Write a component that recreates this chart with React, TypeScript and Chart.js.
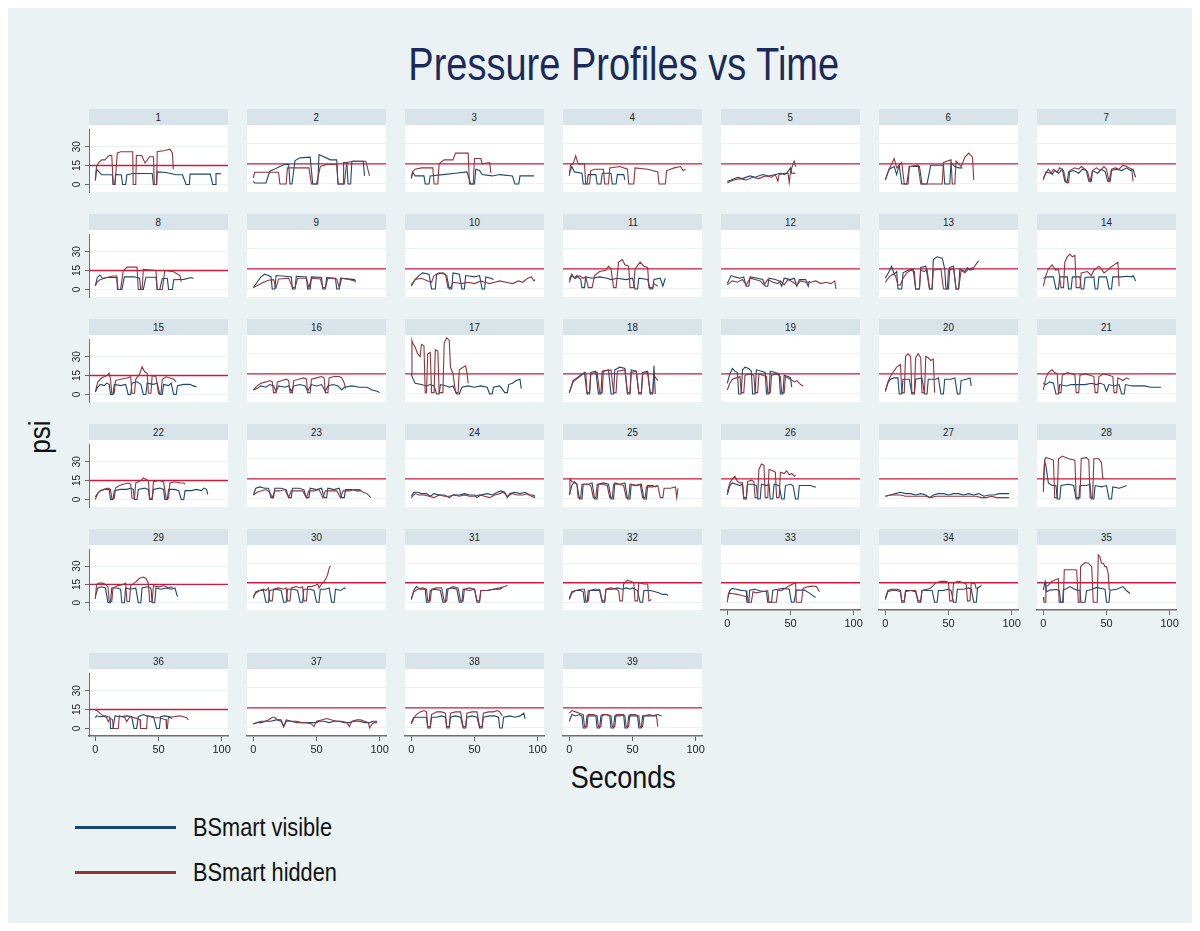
import React, { useEffect, useRef } from "react";
import { Chart, registerables } from "chart.js";
Chart.register(...registerables);

// ---------------- data ----------------
const panelIds = [1,2,3,4,5,6,7,8,9,10,11,12,13,14,15,16,17,18,19,20,21,22,23,24,25,26,27,28,29,30,31,32,33,34,35,36,37,38,39];
const yTicks = [0, 15, 30];
const xTicks = [0, 50, 100];
const refLevel = 15;
const seriesNames = ["BSmart visible", "BSmart hidden"];

// each series: flat [seconds, psi, seconds, psi, ...]
const vis01 = [0,3, 1,12, 3,10, 5,7.7, 12,7.7, 13.5,7.5, 14,0, 15.5,0, 16,8, 20.6,7.5, 21.6,0, 24,0, 25,7.7, 30,8.7, 45,8.7, 46,0, 48.5,0, 49,10, 56,9.5, 64,7.7, 69,7.7, 71.8,0, 74.4,0, 75,8.2, 91,8.2, 92.9,0, 95,0, 95.5,8.7, 99.5,8.5];
const hid01 = [0,4, 1,14.5, 3.2,18, 5,19.5, 7.7,19.5, 9,21, 11,23, 13,23, 14.2,0, 15.6,0, 17.4,25, 20,26, 29.6,26, 30,0, 32,0, 32.5,23, 36.7,23, 39.3,17, 43,22, 46,22, 46.7,0, 48.5,0, 49,26, 55,27, 59,28, 61,25, 61.7,12];
const vis02 = [0,2, 1,0.7, 10,0.7, 13,9.5, 16,10.7, 21,13, 25,14.5, 28,14.5, 29,0, 30.6,0, 33,17.5, 37,19.5, 45,20, 47,0, 51,0, 52,22, 61,18, 66,18, 67,0, 71,0, 71.5,16, 74,16, 75,0, 77,0, 78,17, 87,17, 88,6];
const hid02 = [0,4.5, 1,8.7, 20,8.7, 21,0, 26,0, 27,12, 44,12, 46,0, 50,0, 53,13, 58,14.5, 66,14.5, 67,0, 72,0, 74,16, 79,17, 89,17, 92,6];
const vis03 = [0,4, 1,9, 3,6, 10,6, 11,0, 14,0, 15,6, 25,7, 35,8, 44,9, 47,0, 50,0, 51,11, 54,10, 56,7, 64,6, 70,7, 80,6, 82,0, 85,0, 86,6, 97,6];
const hid03 = [0,5, 1,9, 3,11, 8,12, 17,12, 18,0, 21,0, 22,15, 26,18, 33,18, 35,23, 45,23, 46,0, 49,0, 50,19, 55,19, 56,15, 62,16, 63,8];
const vis04 = [0,8, 2,13, 4,9, 10,8, 11,0, 14,0, 15,7, 21,7, 22,0, 25,0, 26,8, 33,8, 34,0, 37,0, 38,7, 43,7, 44,3];
const hid04 = [0,6, 1,14, 3,15, 5,21, 7,15, 12,15, 13,0, 16,0, 17,10, 20,11, 27,11, 28,0, 31,0, 32,12, 40,13, 46,11, 47,0, 51,0, 52,12, 62,11, 70,9, 71,0, 76,0, 77,10, 83,12, 88,13, 90,10, 92,11];
const vis05 = [0,2, 3,3, 8,5, 12,4, 18,6, 22,5, 28,7, 33,6, 38,7, 42,8, 45,7, 47,8, 50,12, 51,8, 54,8];
const hid05 = [0,1, 5,3, 10,4, 15,3, 20,5, 25,4, 30,6, 35,5, 38,7, 40,2, 41,7, 45,8, 48,8, 49,1, 50,9, 52,15, 53,17, 54,13];
const vis06 = [0,3, 3,11, 7,13, 9,7, 11,14, 13,0, 17,0, 19,13, 27,13, 29,0, 33,0, 36,14, 46,14, 47,0, 51,0, 52,16, 55,13, 58,12, 61,12];
const hid06 = [0,3, 3,11, 7,19, 9,12, 13,16, 15,0, 18,0, 19,13, 26,14, 28,0, 45,0, 46,16, 52,18, 53,0, 55,0, 56,17, 60,13, 63,20, 66,23, 69,20, 70,3];
const vis07 = [0,4, 2,8, 4,11, 7,7, 9,10, 12,8, 15,11, 17,2, 19,2, 20,9, 24,10, 28,8, 31,11, 34,10, 36,2, 38,2, 39,10, 43,8, 46,11, 49,9, 51,2, 53,2, 54,10, 58,11, 62,10, 66,12, 69,10, 71,11, 73,5];
const hid07 = [0,3, 2,9, 6,8, 8,11, 11,9, 13,12, 16,10, 18,1, 20,1, 21,10, 25,12, 28,11, 30,13, 33,11, 35,9, 37,2, 39,10, 42,12, 45,10, 48,13, 50,11, 52,2, 54,11, 57,12, 60,11, 63,14, 66,13, 68,12, 70,11, 71,2];
const vis08 = [0,3, 1.6,9.5, 3.7,11.5, 5.8,8.7, 9,9.5, 17,9.5, 18,0, 21,0, 23,10, 31,10, 35,9, 36,0, 38,0, 40,9.7, 48,9.7, 49,0, 51,0, 53,8.7, 57,8.7, 58,0, 61,0, 62,7.7, 70,8, 76,9.5, 77.6,8.7];
const hid08 = [0,3, 1.6,6, 3.7,7.7, 9,9.5, 14,10.7, 17,10.7, 17.5,0, 20,0, 22,14.5, 25,17.7, 33,17.7, 34,0, 37,0, 38,16, 48,15, 49,0, 53,0, 55,15, 62,14, 67,11, 68,6];
const vis09 = [0,1, 3,5, 6,9, 9,11, 12,10, 14,9, 15,0, 17,0, 18,10, 25,9.5, 30,9, 31,0, 33,0, 34,9.5, 42,9, 43,0, 45,0, 46,9, 54,8.5, 55,0, 57,0, 58,8.5, 65,8, 66,0, 68,0, 69,8, 75,7.5, 80,7, 81,6];
const hid09 = [0,1, 4,3, 8,5, 12,6.5, 16,7, 18,1, 20,7.5, 28,8, 31,1, 33,1, 35,8, 42,8, 44,1, 46,8, 53,7.5, 55,1, 57,1, 59,8, 66,7.5, 68,1, 70,8, 76,7, 80,6, 81,5];
const vis10 = [0,2, 3,7, 6,10, 9,12, 14,11, 16,0, 19,0, 20,11, 25,12, 28,10, 30,0, 32,0, 33,12, 38,11, 40,0, 42,0, 43,10, 50,9, 54,10, 56,0, 58,0, 59,9, 63,8, 65,7];
const hid10 = [0,3, 3,7, 8,8, 13,6, 16,5, 18,10, 22,12, 27,11, 29,1, 31,1, 33,5, 40,4, 45,5, 50,4, 55,6, 58,5, 62,4, 66,5, 70,6, 75,5, 80,4, 85,6, 88,5, 92,8, 95,9, 97,6, 98,7];
const vis11 = [0,7, 2,11, 4,8, 6,10, 9,7, 10,1, 12,1, 13,9, 18,8, 24,9, 30,8, 33,7, 38,8, 45,7, 50,8, 52,0, 54,0, 55,8, 62,7, 64,0, 66,0, 67,7, 72,8, 74,2, 76,8];
const hid11 = [0,5, 2,10, 5,8, 8,10, 11,8, 13,9, 15,1, 18,1, 20,10, 24,13, 29,14, 31,17, 33,15, 35,1, 37,1, 39,20, 42,22, 44,18, 47,17, 48,1, 51,1, 52,15, 56,20, 59,17, 62,16, 63,1, 66,1, 67,4, 70,2];
const vis12 = [0,4, 3,10, 6,9, 10,8, 13,9, 15,2, 17,2, 18,9, 24,8, 28,7, 30,2, 32,2, 33,8, 38,7, 41,6, 43,2, 45,8, 50,7, 53,8, 55,2, 57,7, 62,7, 64,2, 65,6];
const hid12 = [0,3, 4,6, 8,5, 12,7, 15,3, 18,8, 22,7, 26,6, 29,3, 32,7, 36,5, 40,4, 42,6, 45,3, 48,7, 52,5, 55,3, 58,6, 62,5, 66,5, 70,6, 74,4, 78,5, 82,4, 85,6, 86,0];
const vis13 = [0,8, 3,13, 5,17, 7,11, 9,13, 10,0, 13,0, 14,12, 18,14, 22,15, 24,0, 27,0, 28,16, 32,17, 35,0, 37,0, 38,22, 41,24, 45,23, 47,15, 48,0, 50,0, 51,16, 54,17, 56,0, 58,0, 59,15, 63,13, 65,16, 67,14, 70,15];
const hid13 = [0,5, 3,9, 6,11, 8,10, 10,3, 12,3, 14,8, 17,12, 20,14, 23,13, 24,0, 27,0, 28,14, 31,13, 33,15, 35,0, 37,0, 38,14, 44,15, 46,0, 49,0, 50,14, 54,15, 56,0, 58,0, 60,14, 63,12, 66,15, 70,16, 73,20, 74,21];
const vis14 = [0,8, 3,9, 8,9, 10,0, 12,0, 13,9, 19,9, 20,0, 22,0, 23,9, 29,9, 30,0, 32,0, 33,8.5, 40,9, 41,0, 43,0, 44,9, 50,9, 52,0, 54,0, 55,9, 62,9, 66,9.5, 70,9, 71,10, 73,6];
const hid14 = [0,2, 2,10, 4,15, 7,18, 10,14, 12,15, 14,1, 16,1, 17,20, 19,24, 21,26, 23,24, 25,25, 26,1, 29,1, 30,12, 35,13, 38,10, 40,14, 44,17, 46,15, 48,12, 51,14, 53,16, 56,18, 59,20, 60,2];
const vis15 = [0,2, 2,6, 4,8, 7,7, 9,9, 11,8, 12,0, 14,0, 15,8, 20,7, 24,8, 26,0, 28,0, 29,9, 33,10, 36,8, 38,0, 40,0, 41,9, 46,8, 49,9, 51,0, 53,0, 54,8, 58,7, 60,9, 62,0, 64,0, 65,7, 70,8, 75,8, 77,7, 80,6];
const hid15 = [0,2, 2,10, 5,13, 9,15, 11,17, 12,12, 13,1, 15,1, 16,11, 20,12, 25,13, 28,14, 29,1, 31,1, 32,12, 35,16, 37,22, 39,18, 41,17, 42,1, 44,1, 45,15, 48,14, 50,1, 52,1, 53,12, 56,14, 59,13, 62,12, 64,10];
const vis16 = [0,3, 3,4, 6,6, 10,5, 13,7, 16,6, 18,2, 20,6, 25,5, 28,6, 30,2, 32,6, 37,7, 41,6, 43,2, 46,7, 50,6, 54,7, 57,2, 59,6, 63,7, 67,6, 70,3, 72,5, 78,6, 84,5, 90,5, 94,3, 98,2, 100,1];
const hid16 = [0,3, 3,6, 6,8, 10,9, 13,10, 15,9, 16,1, 18,1, 19,9, 23,10, 26,11, 28,10, 29,1, 31,1, 32,10, 36,11, 40,12, 42,11, 43,1, 45,1, 46,11, 50,12, 54,13, 56,12, 57,1, 59,1, 60,12, 64,13, 68,13, 70,12, 72,8, 73,4];
const vis17 = [0,15, 1,12, 3,8, 8,7, 12,6, 15,7, 18,6, 20,0, 22,0, 23,7, 28,6, 30,5, 33,6, 36,0, 38,0, 40,5, 45,6, 50,5, 55,6, 60,5, 62,0, 64,0, 65,5, 70,6, 74,1, 76,1, 77,7, 80,8, 83,10, 86,11, 87,4];
const hid17 = [0,15, 0.5,40, 1,38, 3,35, 5,30, 7,28, 8,37, 10,36, 11,1, 12,1, 13,30, 15,31, 16,1, 18,1, 19,33, 21,32, 22,1, 25,1, 26,38, 28,42, 30,40, 31,20, 33,15, 35,1, 37,1, 38,18, 41,20, 43,21, 44,16, 45,8];
const vis18 = [0,1, 3,10, 6,12, 9,14, 12,16, 14,0, 16,0, 17,16, 21,17, 23,0, 25,0, 26,17, 31,18, 33,0, 35,0, 36,18, 40,20, 44,19, 46,0, 48,0, 49,18, 53,17, 55,0, 57,0, 58,16, 62,17, 64,0, 66,0, 67,21, 68,0];
const hid18 = [0,1, 3,9, 7,12, 11,15, 13,16, 14,1, 16,1, 17,15, 22,16, 24,1, 26,1, 27,17, 33,18, 35,1, 37,1, 38,17, 44,18, 46,1, 48,1, 49,16, 53,17, 55,1, 57,1, 58,15, 62,16, 64,1, 66,1, 67,14, 70,10];
const vis19 = [0,8, 2,15, 4,19, 6,17, 8,16, 9,0, 11,0, 12,18, 14,20, 17,19, 19,17, 20,0, 22,0, 23,18, 27,17, 30,16, 31,0, 33,0, 34,17, 38,16, 41,15, 42,0, 44,0, 45,14, 48,13, 50,12, 51,5];
const hid19 = [0,3, 2,8, 4,11, 7,12, 10,13, 11,1, 13,1, 14,14, 18,15, 21,14, 22,1, 24,1, 25,15, 28,14, 31,13, 32,1, 34,1, 35,14, 39,15, 42,13, 43,1, 45,1, 46,13, 50,11, 53,9, 55,10, 58,7, 60,6];
const vis20 = [0,2, 2,8, 4,11, 7,12, 10,12, 11,0, 13,0, 14,11, 19,11, 21,0, 23,0, 24,11, 29,12, 31,0, 33,0, 34,11, 40,11, 42,12, 44,0, 46,0, 47,11, 52,11, 55,12, 57,0, 59,0, 60,10, 64,11, 67,12, 68,6];
const hid20 = [0,2, 2,9, 4,13, 6,16, 9,20, 12,22, 13,1, 15,1, 16,28, 18,30, 20,28, 21,1, 23,1, 24,27, 26,30, 28,27, 29,1, 31,1, 32,28, 34,27, 36,25, 38,26, 39,1];
const vis21 = [0,8, 2,7, 5,9, 8,8, 10,0, 12,0, 13,7, 18,6, 22,7, 28,7, 33,7, 38,8, 42,7, 45,8, 48,7, 50,2, 52,7, 56,6, 60,7, 62,0, 64,0, 65,7, 70,6, 75,6, 80,6, 85,5, 90,5, 93,5];
const hid21 = [0,3, 2,12, 4,16, 7,18, 9,16, 11,15, 12,1, 14,1, 15,14, 19,16, 23,15, 25,14, 26,1, 28,1, 29,14, 33,15, 37,14, 40,13, 41,1, 43,1, 44,13, 48,15, 52,14, 55,13, 56,1, 58,1, 59,12, 63,10, 66,12, 68,11];
const vis22 = [0,2, 2,5, 4,7, 7,8, 11,8, 12,0, 14,0, 15,7, 20,8, 25,8, 28,9, 30,8, 31,0, 33,0, 34,8, 39,9, 42,8, 43,0, 45,0, 46,8, 51,9, 54,8, 55,0, 57,0, 58,8, 63,8, 66,7, 68,0, 70,0, 71,7, 76,7, 80,8, 84,7, 86,9, 88,8, 89,4];
const hid22 = [0,0, 2,5, 4,7, 7,8, 10,9, 12,8, 13,1, 15,1, 16,9, 19,11, 22,12, 26,13, 28,12, 29,1, 31,1, 32,13, 36,15, 38,17, 40,16, 42,15, 43,1, 45,1, 46,14, 50,15, 54,14, 56,1, 58,1, 59,13, 63,14, 67,13, 70,13, 71,12];
const vis23 = [0,3, 2,8, 5,9, 9,8, 12,8, 14,1, 16,1, 17,8, 22,8, 26,7, 28,1, 30,1, 31,8, 36,8, 40,7, 42,1, 44,1, 45,8, 50,7, 54,8, 56,1, 58,1, 59,8, 64,7, 68,8, 70,1, 72,1, 73,7, 78,7, 82,6, 85,6];
const hid23 = [0,3, 3,5, 6,6, 10,7, 13,5, 15,1, 17,6, 21,6, 25,7, 28,1, 30,6, 35,6, 39,6, 42,1, 44,6, 48,6, 52,7, 55,1, 57,6, 62,6, 66,6, 69,1, 71,6, 76,6, 80,7, 84,7, 87,5, 90,4, 93,1];
const vis24 = [0,2, 2,5, 5,5, 8,4, 12,4, 15,2, 18,4, 22,3, 26,3, 30,1, 33,3, 38,3, 42,4, 46,3, 50,3, 52,1, 55,3, 60,4, 64,3, 68,5, 71,6, 74,5, 76,1, 78,4, 82,5, 86,4, 90,5, 93,3, 96,3, 98,2];
const hid24 = [0,1, 3,4, 6,3, 10,3, 14,2, 18,1, 22,3, 26,2, 30,2, 34,3, 38,2, 42,3, 46,2, 50,2, 54,3, 58,2, 62,1, 66,3, 70,4, 73,5, 76,2, 80,4, 84,3, 88,3, 92,4, 95,2, 98,1];
const vis25 = [0,3, 2,10, 4,13, 6,11, 8,0, 10,0, 11,11, 15,11, 18,12, 20,0, 22,0, 23,11, 27,12, 31,11, 33,0, 35,0, 36,12, 40,11, 44,12, 46,0, 48,0, 49,11, 53,10, 57,11, 59,0, 61,0, 62,10, 66,10, 68,9, 70,10];
const hid25 = [0,4, 0.5,15, 2,13, 4,12, 6,11, 7,1, 9,1, 10,11, 14,11, 17,10, 19,1, 21,1, 22,11, 26,11, 30,10, 32,1, 34,1, 35,11, 39,11, 43,10, 45,1, 47,1, 48,11, 52,10, 56,11, 58,1, 60,1, 61,9, 66,9, 70,10, 72,1, 74,1, 75,8, 80,8, 84,9, 85,1, 86,8];
const vis26 = [0,3, 2,10, 4,12, 7,11, 10,10, 12,11, 13,0, 15,0, 16,11, 20,11, 23,10, 24,0, 26,0, 27,11, 31,10, 33,11, 34,0, 36,0, 37,11, 41,10, 43,0, 45,0, 46,10, 50,11, 52,10, 54,0, 56,0, 57,10, 62,10, 66,10, 69,9, 70,9];
const hid26 = [0,5, 2,12, 4,15, 6,17, 8,13, 10,12, 12,12, 13,1, 15,1, 16,13, 19,14, 21,13, 22,1, 24,1, 25,22, 27,26, 29,25, 30,1, 32,1, 33,22, 36,21, 38,20, 39,1, 41,1, 42,20, 45,19, 47,21, 49,18, 51,19, 53,17, 54,18];
const vis27 = [0,2, 4,3, 8,4, 12,5, 16,4, 20,4, 24,3, 28,4, 32,3, 35,1, 38,3, 42,4, 46,4, 50,3, 54,4, 58,4, 62,3, 66,4, 70,3, 74,4, 78,2, 82,3, 86,3, 90,4, 94,4, 98,4];
const hid27 = [0,2, 4,3, 8,3, 12,3, 16,2, 20,2, 24,2, 28,2, 32,2, 36,1, 40,2, 44,2, 48,2, 52,2, 56,2, 60,2, 64,2, 68,2, 72,2, 76,1, 80,1, 84,2, 88,1, 92,1, 96,1, 98,1];
const vis28 = [0,10, 1,28, 2,25, 4,12, 7,10, 10,10, 11,0, 13,0, 14,10, 20,11, 24,10, 26,0, 28,0, 29,10, 34,10, 37,11, 38,0, 40,0, 41,10, 46,9, 50,10, 52,0, 54,0, 55,9, 60,8, 63,9, 66,10];
const hid28 = [0,5, 1,28, 2,31, 5,30, 8,29, 9,1, 11,1, 12,30, 15,32, 20,30, 25,29, 26,1, 29,1, 30,30, 34,31, 36,29, 37,1, 39,1, 40,30, 44,30, 46,27, 47,16, 48,15];
const vis29 = [0,5, 2,12, 5,13, 8,12, 10,0, 12,0, 13,12, 17,12, 20,11, 21,0, 23,0, 24,12, 28,11, 32,12, 34,0, 36,0, 37,12, 41,13, 44,12, 45,0, 47,0, 48,12, 52,11, 56,12, 60,11, 63,12, 65,5];
const hid29 = [0,3, 1,15, 3,16, 6,16, 8,15, 10,13, 11,1, 13,1, 14,12, 18,14, 22,15, 24,16, 25,1, 27,1, 28,14, 32,17, 35,20, 38,21, 40,20, 42,16, 43,1, 45,1, 46,14, 50,13, 54,14, 56,13, 58,12, 60,13, 61,12];
const vis30 = [0,3, 2,8, 5,9, 8,9, 10,0, 12,0, 13,9, 18,10, 22,9, 24,0, 26,0, 27,10, 32,10, 35,9, 37,0, 39,0, 40,10, 45,10, 48,9, 50,0, 52,0, 53,10, 57,10, 60,11, 62,0, 64,0, 65,10, 69,9, 72,11, 73,10];
const hid30 = [0,5, 2,7, 5,9, 8,10, 10,9, 12,11, 13,1, 15,1, 16,10, 20,11, 24,10, 26,11, 27,1, 29,1, 30,11, 34,12, 37,11, 39,12, 40,1, 42,1, 43,12, 46,12, 49,13, 51,14, 52,11, 54,14, 56,16, 58,19, 59,22, 60,26, 61,28];
const vis31 = [0,2, 2,9, 4,12, 7,10, 11,10, 12,0, 14,0, 15,9, 19,10, 23,9, 25,0, 27,0, 28,10, 32,11, 36,10, 38,0, 40,0, 41,10, 46,9, 50,10, 52,0, 54,0, 55,9, 60,9, 65,10, 70,10, 72,11];
const hid31 = [0,3, 2,8, 5,10, 9,11, 12,10, 13,1, 15,1, 16,10, 20,11, 24,11, 26,1, 28,1, 29,10, 33,12, 37,11, 39,1, 41,1, 42,10, 46,11, 50,10, 52,1, 54,1, 55,9, 60,9, 65,10, 70,11, 74,12, 76,13];
const vis32 = [0,3, 2,8, 5,9, 9,9, 11,8, 12,0, 14,0, 15,9, 20,9, 24,9, 26,0, 28,0, 29,10, 34,10, 38,11, 42,10, 45,11, 48,10, 50,11, 52,10, 54,9, 56,0, 58,0, 59,9, 64,9, 68,8, 71,7, 74,6, 77,6, 78,5];
const hid32 = [0,2, 2,7, 5,9, 9,10, 12,10, 13,1, 15,1, 16,9, 20,10, 24,10, 26,1, 28,1, 29,10, 33,11, 37,10, 39,9, 40,1, 42,1, 43,14, 46,17, 49,16, 51,15, 52,1, 54,1, 55,15, 59,14, 62,14, 63,1, 65,2];
const vis33 = [0.5,3.6, 1.8,8.8, 3.7,10.6, 7,10, 10,9.3, 13.7,8.8, 15,8.8, 15.5,0, 17,0, 17.7,9.3, 21.6,10, 25.6,8.8, 31,8, 32,0, 35,0, 36,9.3, 40,10, 44,10.6, 49,10, 50.7,0, 52.8,0, 54.6,9.3, 61,9.3, 65,7, 69,4, 70,4];
const hid33 = [0,0, 1,7, 3.7,6.7, 7,6.2, 10,5.5, 13.7,4.6, 16,4.5, 16.5,0, 19,0, 20.3,8, 23,7.2, 27,8, 32,8.8, 33,0, 38.8,0, 40,9.3, 42.7,8.8, 48,12, 53,14.5, 54,15, 54.6,0, 58.6,0, 60,10.6, 64,12, 67.8,12.4, 70.5,12, 73,8];
const vis34 = [0,3, 2,9, 5,10, 9,10, 12,9, 13,0, 15,0, 16,9, 20,9, 24,8, 26,0, 28,0, 29,9, 33,9, 37,9, 39,0, 41,0, 42,9, 46,9, 50,10, 52,9, 54,0, 56,0, 57,10, 62,10, 66,11, 68,10, 70,0, 72,0, 73,11, 75,12, 76,13];
const hid34 = [0,2, 2,8, 5,9, 9,9, 12,8, 13,1, 15,1, 16,8, 20,9, 24,9, 26,1, 28,1, 29,9, 33,10, 36,11, 38,13, 40,15, 44,16, 48,16, 50,15, 51,1, 53,1, 54,15, 58,16, 62,15, 64,14, 65,1, 67,1, 68,15, 71,14, 72,10];
const vis35 = [0,9.3, 1,14, 1.5,15.8, 2,12, 2.6,8, 5.3,9.3, 10.6,9.8, 12.7,8.8, 13.7,0, 15.3,0, 15.8,9.3, 18.5,10.6, 21,12, 23.7,10.6, 26.4,9.3, 29,9, 29.8,0, 33,0, 34.3,8.8, 38.3,9.8, 42,11.4, 46,10.6, 48.8,10, 50,0, 52,0, 52.8,9.3, 58,10, 63,12, 66,8.8, 68.6,6.7];
const hid35 = [0,4, 0.5,0, 1.5,0, 2,12, 4,13, 6.5,16, 9,17, 11.9,18, 12.5,0, 15.8,0, 16.6,25, 25,25, 26.4,24.6, 27.7,0, 29,0, 29.5,27.4, 33,30.5, 35.6,30, 38.3,27.4, 39.5,0, 42.7,0, 43.5,36.4, 44.8,35, 46,30, 47.5,30, 48.8,27.4, 50,27.4, 51.4,22, 52.2,9.3];
const vis36 = [0,8.5, 1,10, 3.7,9.3, 7.7,10, 10.3,9.3, 11.6,9, 12.1,0, 14,0, 15.6,10, 19.5,9.3, 24.8,10, 28.8,9.3, 30.6,0, 32.7,0, 34,9.3, 38,11, 40.6,10, 46,9.3, 48.5,0, 50.7,0, 51.7,9.3, 55,10, 59,9.3, 60.4,7.5];
const hid36 = [0,14.5, 1,14.5, 3.7,12, 6.3,10, 9,8.5, 10.3,5.4, 11.6,8, 13.7,7, 14.2,0, 18.2,0, 19,10, 23.5,8.5, 24.8,5.4, 27.4,9.3, 32.7,8, 35.4,7, 35.8,0, 40.6,0, 41.2,10, 46,8.5, 51.2,8.5, 53.8,7.5, 56,7, 56.3,0, 57,0, 57.8,8.5, 61.7,9.3, 67,10, 72.3,8.5, 73.6,6.7];
const vis37 = [0,3, 3,4, 6,4, 10,5, 14,5, 18,6, 22,6, 24,1, 26,6, 30,5, 34,5, 38,4, 42,4, 46,4, 50,4, 52,5, 56,5, 60,4, 64,5, 68,5, 72,4, 76,4, 80,5, 84,5, 88,4, 92,4, 95,5, 98,5];
const hid37 = [0,3, 3,4, 6,5, 9,5, 12,6, 15,8, 17,8, 19,6, 22,5, 24,1, 26,5, 30,5, 34,4, 38,4, 42,4, 46,3, 48,1, 50,5, 54,6, 58,7, 62,6, 66,5, 70,5, 74,4, 76,1, 78,5, 82,6, 85,6, 88,5, 91,4, 92,0, 94,3, 96,4, 98,4];
const vis38 = [0,4, 2,8, 5,8, 9,8, 12,8, 13,0, 15,0, 16,8, 20,8, 24,9, 27,8, 28,0, 30,0, 31,8, 35,9, 39,8, 41,0, 43,0, 44,8, 48,9, 52,8, 54,0, 56,0, 57,8, 62,9, 66,9, 69,8, 70,0, 72,0, 73,8, 78,9, 82,8, 86,9, 89,11, 90,7];
const hid38 = [0,3, 2,7, 4,10, 7,12, 10,13, 12,12, 13,1, 15,1, 16,10, 20,12, 24,12, 27,11, 28,1, 30,1, 31,11, 35,12, 39,12, 41,1, 43,1, 44,11, 48,12, 52,12, 54,1, 56,1, 57,11, 61,12, 65,12, 68,13, 70,12, 72,9];
const vis39 = [0,5, 2,10, 5,9, 8,10, 10,9, 11,0, 13,0, 14,9, 18,9, 21,9, 22,0, 24,0, 25,9, 29,10, 32,9, 33,0, 35,0, 36,9, 40,9, 43,10, 44,0, 46,0, 47,9, 51,9, 54,9, 55,0, 57,0, 58,9, 62,9, 66,9, 70,10, 73,9];
const hid39 = [0,11, 2,13, 5,12, 8,11, 11,10, 12,1, 14,1, 15,10, 19,10, 22,9, 23,1, 25,1, 26,10, 30,10, 33,9, 34,1, 36,1, 37,10, 41,10, 44,9, 45,1, 47,1, 48,10, 52,10, 55,9, 56,1, 58,1, 59,9, 63,10, 67,9, 69,9, 70,1];

const visibleSeries = [vis01,vis02,vis03,vis04,vis05,vis06,vis07,vis08,vis09,vis10,vis11,vis12,vis13,vis14,vis15,vis16,vis17,vis18,vis19,vis20,vis21,vis22,vis23,vis24,vis25,vis26,vis27,vis28,vis29,vis30,vis31,vis32,vis33,vis34,vis35,vis36,vis37,vis38,vis39];
const hiddenSeries = [hid01,hid02,hid03,hid04,hid05,hid06,hid07,hid08,hid09,hid10,hid11,hid12,hid13,hid14,hid15,hid16,hid17,hid18,hid19,hid20,hid21,hid22,hid23,hid24,hid25,hid26,hid27,hid28,hid29,hid30,hid31,hid32,hid33,hid34,hid35,hid36,hid37,hid38,hid39];

// ---------------- styling / layout ----------------
const BG = "#eaf2f3";
const STRIP = "#d8e4ea";
const NAVY = "#1a476f";
const MAROON = "#90353b";
const REF = "#d0183c";
const TXT = "'Liberation Sans', Arial, sans-serif";
const NARROW = "'Liberation Sans Narrow', 'Arial Narrow', 'Liberation Sans', sans-serif";

const OFF = 8; // body margin
const COL_LEFT0 = 89, COL_STEP = 158, PLOT_W = 139;
const ROW_TOP = [109, 214, 319, 424, 529, 653];
const PLOT_H = [67, 67, 67, 67, 65, 67];
const STRIP_H = 16;
const PADL = 26, PADR = 12, PADT = 4, PADB = 26;
const Y_AXIS_W = 22, X_AXIS_H = 22;

function toPoints(flat: number[]) {
  const pts: { x: number; y: number }[] = [];
  for (let i = 0; i + 1 < flat.length; i += 2) pts.push({ x: flat[i], y: flat[i + 1] });
  return pts;
}

function panelGeom(i: number) {
  const row = Math.floor(i / 7);
  const col = i % 7;
  const id = panelIds[i];
  const hasY = col === 0;
  const hasX = id >= 33;
  return { row, col, hasX, hasY, left: COL_LEFT0 + COL_STEP * col, top: ROW_TOP[row] + STRIP_H, h: PLOT_H[row] };
}

function Panel({ index }: { index: number }) {
  const ref = useRef<HTMLCanvasElement | null>(null);
  const g = panelGeom(index);
  const cw = PLOT_W + PADL + PADR;
  const ch = g.h + PADT + PADB;
  useEffect(() => {
    if (!ref.current) return;
    const yW = g.hasY ? Y_AXIS_W : 0;
    const xH = g.hasX ? X_AXIS_H : 0;
    const chart = new Chart(ref.current, {
      type: "line",
      data: {
        datasets: [
          { label: seriesNames[1], data: toPoints(hiddenSeries[index]), borderColor: MAROON, borderWidth: 1.1, pointRadius: 0, tension: 0, fill: false },
          { label: seriesNames[0], data: toPoints(visibleSeries[index]), borderColor: NAVY, borderWidth: 1.1, pointRadius: 0, tension: 0, fill: false },
          { label: "ref", data: [{ x: -5, y: refLevel }, { x: 105, y: refLevel }], borderColor: REF, borderWidth: 1.4, pointRadius: 0, tension: 0, fill: false },
        ],
      },
      options: {
        animation: false,
        responsive: false,
        maintainAspectRatio: false,
        events: [],
        layout: { padding: { left: PADL - yW, right: PADR, top: PADT, bottom: PADB - xH } },
        plugins: { legend: { display: false }, tooltip: { enabled: false } },
        scales: {
          x: {
            type: "linear",
            min: -5,
            max: 105,
            display: g.hasX,
            afterBuildTicks: (s: any) => { s.ticks = xTicks.map((v) => ({ value: v })); },
            afterFit: (s: any) => { s.height = xH; },
            grid: { drawOnChartArea: false, drawTicks: true, tickLength: 5, color: "#666", lineWidth: 1 },
            border: { display: true, color: "#6e6e6e", width: 1.5 },
            ticks: { font: { family: NARROW, size: 11 }, color: "#222", padding: 2, maxRotation: 0, minRotation: 0, autoSkip: false },
          },
          y: {
            type: "linear",
            min: -6,
            max: 44,
            afterBuildTicks: (s: any) => { s.ticks = yTicks.map((v) => ({ value: v })); },
            afterFit: (s: any) => { s.width = yW; },
            grid: { color: BG, lineWidth: 1, drawTicks: g.hasY, tickLength: 4, tickColor: "#666" },
            border: { display: g.hasY, color: "#6e6e6e", width: 1 },
            ticks: { display: g.hasY, minRotation: 90, maxRotation: 90, crossAlign: "center", font: { family: NARROW, size: 10 }, color: "#222", padding: 2 },
          },
        },
      },
    } as any);
    return () => chart.destroy();
  }, [index]);
  return (
    <>
      <div style={{ position: "absolute", left: g.left - OFF, top: ROW_TOP[g.row] - OFF, width: PLOT_W, height: STRIP_H, background: STRIP, textAlign: "center", fontFamily: TXT, fontSize: 11.5, lineHeight: STRIP_H + "px", color: "#222" }}>
        <span style={{ display: "inline-block", transform: "scaleX(0.85)" }}>{panelIds[index]}</span>
      </div>
      <div style={{ position: "absolute", left: g.left - OFF, top: g.top - OFF, width: PLOT_W, height: g.h, background: "#ffffff" }} />
      <canvas ref={ref} width={cw} height={ch} style={{ position: "absolute", left: g.left - PADL - OFF, top: g.top - PADT - OFF, width: cw, height: ch }} />
    </>
  );
}

export default function App() {
  return (
    <div style={{ position: "relative", width: 1184, height: 915, background: BG, overflow: "hidden", fontFamily: TXT }}>
      <div style={{ position: "absolute", left: 615.5 - 500, width: 1000, top: 33, textAlign: "center", fontSize: 46, lineHeight: "46px", color: "#1c2a59", whiteSpace: "nowrap" }}>
        <span style={{ display: "inline-block", transform: "scaleX(0.826)" }}>Pressure Profiles vs Time</span>
      </div>
      <div style={{ position: "absolute", left: 32 - 50, top: 429 - 15, width: 100, height: 30, lineHeight: "30px", textAlign: "center", fontSize: 30, color: "#111", transform: "rotate(-90deg) scaleX(0.87)" }}>psi</div>
      <div style={{ position: "absolute", left: 615.5 - 200, width: 400, top: 754, textAlign: "center", fontSize: 31, lineHeight: "31px", color: "#111" }}>
        <span style={{ display: "inline-block", transform: "scaleX(0.87)" }}>Seconds</span>
      </div>
      {panelIds.map((_, i) => <Panel key={i} index={i} />)}
      <div style={{ position: "absolute", left: 75 - OFF, top: 827 - OFF - 1.5, width: 101, height: 3, background: NAVY }} />
      <div style={{ position: "absolute", left: 75 - OFF, top: 872 - OFF - 1.5, width: 101, height: 3, background: MAROON }} />
      <div style={{ position: "absolute", left: 193 - OFF, top: 827 - OFF - 15, height: 30, lineHeight: "30px", fontSize: 25, color: "#111", whiteSpace: "nowrap", transformOrigin: "left center", transform: "scaleX(0.87)" }}>{seriesNames[0]}</div>
      <div style={{ position: "absolute", left: 193 - OFF, top: 872 - OFF - 15, height: 30, lineHeight: "30px", fontSize: 25, color: "#111", whiteSpace: "nowrap", transformOrigin: "left center", transform: "scaleX(0.87)" }}>{seriesNames[1]}</div>
    </div>
  );
}
